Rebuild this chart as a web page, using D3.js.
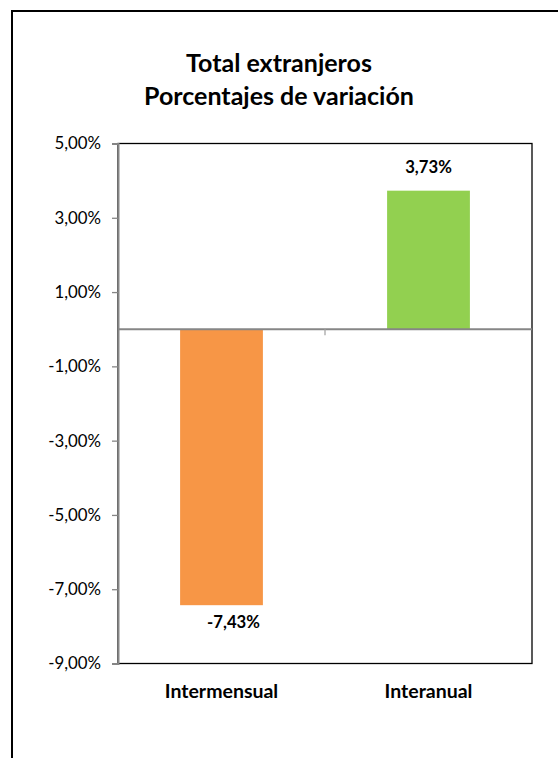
<!DOCTYPE html>
<html>
<head>
<meta charset="utf-8">
<script src="https://cdn.jsdelivr.net/npm/d3@7/dist/d3.min.js"></script>
<style>
  html, body { margin: 0; padding: 0; background: #fff; }
  svg { display: block; font-family: Lato, "Open Sans", sans-serif; }
</style>
</head>
<body>
<svg id="chart" width="558" height="758"></svg>
<script>
// Variación porcentual del total de extranjeros
const categories = ["Intermensual", "Interanual"];
const values = [-7.43, 3.73];
const barColors = ["#F79646", "#92D050"];
const tickValues = [5, 3, 1, -1, -3, -5, -7, -9];
const titleLines = ["Total extranjeros", "Porcentajes de variación"];

const svg = d3.select("#chart");
const W = 558, H = 758;
const plot = { left: 118, right: 532, top: 143.5, bottom: 663.5 };

const fmt = v => (v < 0 ? "-" : "") + d3.format(".2f")(Math.abs(v)).replace(".", ",") + "%";

// outer frame (continues past the right and bottom edges)
svg.append("rect")
  .attr("x", 12).attr("y", 11)
  .attr("width", W + 20).attr("height", H + 20)
  .attr("fill", "#fff").attr("stroke", "#000").attr("stroke-width", 2);

// title
svg.append("g").selectAll("text").data(titleLines).join("text")
  .attr("x", 279).attr("y", (d, i) => 72 + i * 33)
  .attr("text-anchor", "middle")
  .attr("font-weight", "bold").attr("font-size", 25)
  .attr("fill", "#000")
  .text(d => d);

const y = d3.scaleLinear().domain([-9, 5]).range([plot.bottom, plot.top]);
const x = d3.scaleBand().domain(categories)
  .range([plot.left, plot.right]).paddingInner(0.6).paddingOuter(0.3);
const xb = d3.scaleBand().domain(categories).range([plot.left, plot.right]);

// plot area border
svg.append("rect")
  .attr("x", plot.left).attr("y", plot.top)
  .attr("width", plot.right - plot.left).attr("height", plot.bottom - plot.top)
  .attr("fill", "none").attr("stroke", "#000").attr("stroke-width", 1.3);

// bars
svg.append("g").selectAll("rect").data(values).join("rect")
  .attr("x", (d, i) => x(categories[i]))
  .attr("width", x.bandwidth())
  .attr("y", d => y(Math.max(0, d)))
  .attr("height", d => Math.abs(y(d) - y(0)))
  .attr("fill", (d, i) => barColors[i]);

// y axis
const yAxis = svg.append("g")
  .attr("transform", `translate(${plot.left},0)`)
  .call(d3.axisLeft(y).tickValues(tickValues).tickFormat(fmt).tickSize(6).tickPadding(11));
yAxis.select(".domain").attr("stroke", "#868686").attr("stroke-width", 2);
yAxis.selectAll(".tick line").attr("stroke", "#868686").attr("stroke-width", 1.3);
yAxis.selectAll(".tick text")
  .attr("font-family", "Lato, 'Open Sans', sans-serif")
  .attr("font-size", 16.8).attr("fill", "#000");

// zero line with category divider tick
svg.append("line")
  .attr("x1", plot.left).attr("x2", plot.right)
  .attr("y1", y(0)).attr("y2", y(0))
  .attr("stroke", "#868686").attr("stroke-width", 2);
svg.append("line")
  .attr("x1", xb(categories[1])).attr("x2", xb(categories[1]))
  .attr("y1", y(0)).attr("y2", y(0) + 6)
  .attr("stroke", "#a6a6a6").attr("stroke-width", 1.3);

// value labels
svg.append("g").selectAll("text").data(values).join("text")
  .attr("x", (d, i) => x(categories[i]) + x.bandwidth() / 2 + (d < 0 ? 12 : 0))
  .attr("y", d => d < 0 ? y(d) + 23 : y(d) - 18)
  .attr("text-anchor", "middle")
  .attr("font-weight", "bold").attr("font-size", 16.7)
  .attr("fill", "#000")
  .text(d => fmt(d));

// category labels
svg.append("g").selectAll("text").data(categories).join("text")
  .attr("x", d => xb(d) + xb.bandwidth() / 2)
  .attr("y", 698)
  .attr("text-anchor", "middle")
  .attr("font-weight", "bold").attr("font-size", 19.5)
  .attr("fill", "#000")
  .text(d => d);
</script>
</body>
</html>
